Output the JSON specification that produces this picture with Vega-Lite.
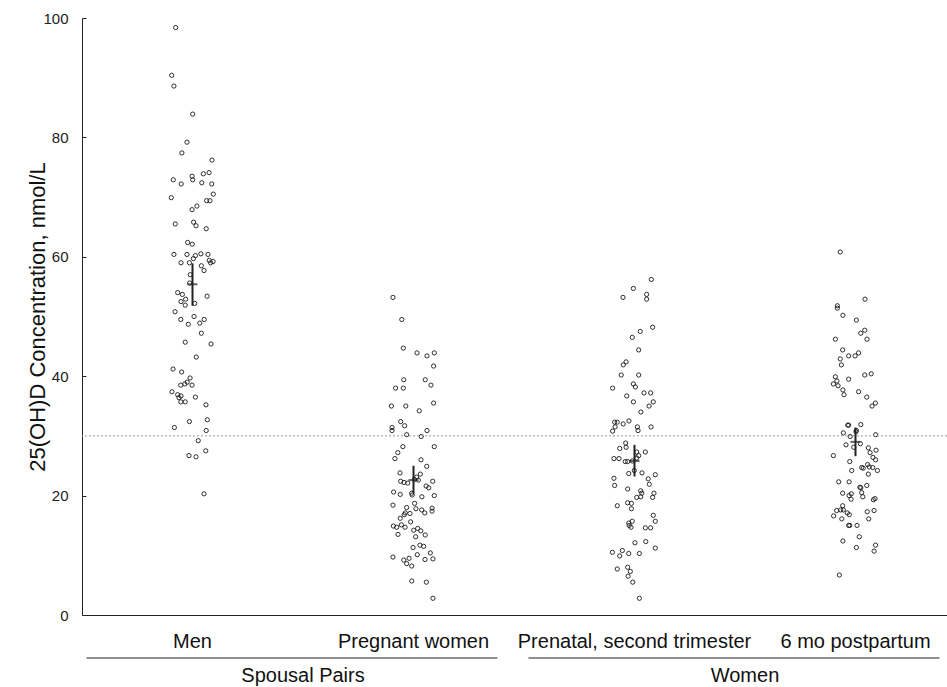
{
"$schema":"https://vega.github.io/schema/vega-lite/v6.json",
"width":865,"height":597,
"autosize":{"type":"none"},
"padding":{"left":82,"top":18,"right":0,"bottom":72},
"background":"white",
"config":{"view":{"stroke":null},"font":"Liberation Sans","axis":{"grid":false}},
"datasets":{
"points":[
{"c":"Men","value":98.4,"jitter":-0.76},{"c":"Men","value":90.4,"jitter":-0.94},{"c":"Men","value":88.6,"jitter":-0.84},{"c":"Men","value":83.9,"jitter":0.01},{"c":"Men","value":79.2,"jitter":-0.25},{"c":"Men","value":77.4,"jitter":-0.48},{"c":"Men","value":76.2,"jitter":0.88},{"c":"Men","value":73.5,"jitter":-0.02},{"c":"Men","value":72.9,"jitter":0.01},{"c":"Men","value":73.9,"jitter":0.49},{"c":"Men","value":74.1,"jitter":0.75},{"c":"Men","value":72.9,"jitter":-0.87},{"c":"Men","value":72.2,"jitter":-0.51},{"c":"Men","value":72.4,"jitter":0.42},{"c":"Men","value":72.2,"jitter":0.87},{"c":"Men","value":70.5,"jitter":0.94},{"c":"Men","value":69.9,"jitter":-0.96},{"c":"Men","value":69.4,"jitter":0.64},{"c":"Men","value":69.4,"jitter":0.79},{"c":"Men","value":68.5,"jitter":0.2},{"c":"Men","value":67.9,"jitter":-0.02},{"c":"Men","value":65.5,"jitter":-0.78},{"c":"Men","value":65.8,"jitter":0.05},{"c":"Men","value":65.2,"jitter":0.16},{"c":"Men","value":64.7,"jitter":0.62},{"c":"Men","value":62.4,"jitter":-0.22},{"c":"Men","value":62.1,"jitter":-0.01},{"c":"Men","value":60.4,"jitter":-0.84},{"c":"Men","value":60.4,"jitter":-0.25},{"c":"Men","value":60.2,"jitter":0.13},{"c":"Men","value":60.5,"jitter":0.38},{"c":"Men","value":60.4,"jitter":0.7},{"c":"Men","value":59.7,"jitter":0.04},{"c":"Men","value":59.4,"jitter":0.76},{"c":"Men","value":59.2,"jitter":0.93},{"c":"Men","value":59.0,"jitter":0.82},{"c":"Men","value":59.0,"jitter":-0.52},{"c":"Men","value":59.0,"jitter":-0.14},{"c":"Men","value":58.5,"jitter":0.4},{"c":"Men","value":57.7,"jitter":0.52},{"c":"Men","value":57.0,"jitter":-0.1},{"c":"Men","value":55.6,"jitter":-0.13},{"c":"Men","value":54.0,"jitter":-0.67},{"c":"Men","value":53.7,"jitter":-0.46},{"c":"Men","value":52.9,"jitter":-0.31},{"c":"Men","value":53.4,"jitter":0.66},{"c":"Men","value":52.5,"jitter":-0.52},{"c":"Men","value":51.9,"jitter":-0.33},{"c":"Men","value":52.2,"jitter":0.1},{"c":"Men","value":50.8,"jitter":-0.79},{"c":"Men","value":50.0,"jitter":0.07},{"c":"Men","value":49.5,"jitter":-0.53},{"c":"Men","value":49.5,"jitter":0.53},{"c":"Men","value":48.9,"jitter":0.33},{"c":"Men","value":48.7,"jitter":-0.19},{"c":"Men","value":47.2,"jitter":0.4},{"c":"Men","value":45.7,"jitter":-0.33},{"c":"Men","value":45.4,"jitter":0.84},{"c":"Men","value":43.2,"jitter":0.17},{"c":"Men","value":41.2,"jitter":-0.88},{"c":"Men","value":40.7,"jitter":-0.49},{"c":"Men","value":39.7,"jitter":-0.11},{"c":"Men","value":39.0,"jitter":-0.24},{"c":"Men","value":38.7,"jitter":-0.35},{"c":"Men","value":38.5,"jitter":-0.53},{"c":"Men","value":38.5,"jitter":-0.02},{"c":"Men","value":37.4,"jitter":-0.93},{"c":"Men","value":36.9,"jitter":-0.67},{"c":"Men","value":36.7,"jitter":-0.52},{"c":"Men","value":36.4,"jitter":-0.61},{"c":"Men","value":36.5,"jitter":0.13},{"c":"Men","value":35.7,"jitter":-0.53},{"c":"Men","value":35.7,"jitter":-0.33},{"c":"Men","value":35.2,"jitter":0.61},{"c":"Men","value":32.4,"jitter":-0.14},{"c":"Men","value":32.7,"jitter":0.67},{"c":"Men","value":31.4,"jitter":-0.82},{"c":"Men","value":30.9,"jitter":0.62},{"c":"Men","value":29.2,"jitter":0.26},{"c":"Men","value":27.5,"jitter":0.6},{"c":"Men","value":26.7,"jitter":-0.16},{"c":"Men","value":26.5,"jitter":0.16},{"c":"Men","value":20.3,"jitter":0.52},
{"c":"Pregnant women","value":53.2,"jitter":-0.93},{"c":"Pregnant women","value":49.5,"jitter":-0.53},{"c":"Pregnant women","value":44.7,"jitter":-0.46},{"c":"Pregnant women","value":43.9,"jitter":0.16},{"c":"Pregnant women","value":43.4,"jitter":0.61},{"c":"Pregnant women","value":43.9,"jitter":0.94},{"c":"Pregnant women","value":41.7,"jitter":0.91},{"c":"Pregnant women","value":39.4,"jitter":-0.44},{"c":"Pregnant women","value":39.4,"jitter":0.53},{"c":"Pregnant women","value":38.5,"jitter":0.79},{"c":"Pregnant women","value":38.0,"jitter":-0.81},{"c":"Pregnant women","value":38.0,"jitter":-0.46},{"c":"Pregnant women","value":35.0,"jitter":-1.0},{"c":"Pregnant women","value":35.0,"jitter":-0.35},{"c":"Pregnant women","value":35.5,"jitter":0.91},{"c":"Pregnant women","value":34.2,"jitter":0.26},{"c":"Pregnant women","value":32.4,"jitter":-0.58},{"c":"Pregnant women","value":31.7,"jitter":-0.4},{"c":"Pregnant women","value":31.4,"jitter":-0.97},{"c":"Pregnant women","value":30.9,"jitter":-0.97},{"c":"Pregnant women","value":30.9,"jitter":0.61},{"c":"Pregnant women","value":30.2,"jitter":-0.31},{"c":"Pregnant women","value":29.9,"jitter":0.35},{"c":"Pregnant women","value":28.2,"jitter":-0.48},{"c":"Pregnant women","value":28.2,"jitter":0.94},{"c":"Pregnant women","value":27.2,"jitter":-0.71},{"c":"Pregnant women","value":26.2,"jitter":-0.84},{"c":"Pregnant women","value":26.0,"jitter":0.34},{"c":"Pregnant women","value":24.9,"jitter":0.6},{"c":"Pregnant women","value":23.8,"jitter":-0.61},{"c":"Pregnant women","value":23.6,"jitter":0.31},{"c":"Pregnant women","value":23.1,"jitter":0.14},{"c":"Pregnant women","value":22.7,"jitter":0.04},{"c":"Pregnant women","value":22.6,"jitter":0.22},{"c":"Pregnant women","value":22.4,"jitter":-0.58},{"c":"Pregnant women","value":22.2,"jitter":-0.43},{"c":"Pregnant women","value":22.1,"jitter":-0.26},{"c":"Pregnant women","value":22.4,"jitter":0.87},{"c":"Pregnant women","value":21.6,"jitter":0.57},{"c":"Pregnant women","value":21.3,"jitter":0.69},{"c":"Pregnant women","value":20.6,"jitter":-0.9},{"c":"Pregnant women","value":20.2,"jitter":-0.6},{"c":"Pregnant women","value":20.4,"jitter":-0.08},{"c":"Pregnant women","value":20.1,"jitter":-0.06},{"c":"Pregnant women","value":19.8,"jitter":0.38},{"c":"Pregnant women","value":20.0,"jitter":0.94},{"c":"Pregnant women","value":18.7,"jitter":0.05},{"c":"Pregnant women","value":18.4,"jitter":-0.93},{"c":"Pregnant women","value":18.0,"jitter":-0.31},{"c":"Pregnant women","value":17.8,"jitter":0.11},{"c":"Pregnant women","value":17.6,"jitter":0.37},{"c":"Pregnant women","value":17.1,"jitter":0.51},{"c":"Pregnant women","value":17.9,"jitter":0.84},{"c":"Pregnant women","value":17.4,"jitter":0.84},{"c":"Pregnant women","value":17.1,"jitter":-0.37},{"c":"Pregnant women","value":17.0,"jitter":-0.16},{"c":"Pregnant women","value":16.8,"jitter":-0.42},{"c":"Pregnant women","value":16.2,"jitter":-0.6},{"c":"Pregnant women","value":15.6,"jitter":-0.13},{"c":"Pregnant women","value":14.9,"jitter":-0.91},{"c":"Pregnant women","value":14.7,"jitter":-0.76},{"c":"Pregnant women","value":15.1,"jitter":-0.55},{"c":"Pregnant women","value":14.7,"jitter":-0.38},{"c":"Pregnant women","value":14.2,"jitter":0.01},{"c":"Pregnant women","value":14.5,"jitter":0.19},{"c":"Pregnant women","value":14.1,"jitter":0.33},{"c":"Pregnant women","value":13.5,"jitter":-0.7},{"c":"Pregnant women","value":13.4,"jitter":0.53},{"c":"Pregnant women","value":13.1,"jitter":0.1},{"c":"Pregnant women","value":11.7,"jitter":0.29},{"c":"Pregnant women","value":11.5,"jitter":0.46},{"c":"Pregnant women","value":11.3,"jitter":-0.02},{"c":"Pregnant women","value":10.4,"jitter":0.76},{"c":"Pregnant women","value":10.1,"jitter":0.17},{"c":"Pregnant women","value":9.7,"jitter":-0.93},{"c":"Pregnant women","value":9.5,"jitter":-0.2},{"c":"Pregnant women","value":9.2,"jitter":-0.44},{"c":"Pregnant women","value":9.3,"jitter":0.52},{"c":"Pregnant women","value":9.4,"jitter":0.88},{"c":"Pregnant women","value":8.6,"jitter":-0.31},{"c":"Pregnant women","value":8.2,"jitter":-0.08},{"c":"Pregnant women","value":5.7,"jitter":-0.08},{"c":"Pregnant women","value":5.5,"jitter":0.58},{"c":"Pregnant women","value":2.8,"jitter":0.88},
{"c":"Prenatal, second trimester","value":56.2,"jitter":0.76},{"c":"Prenatal, second trimester","value":54.7,"jitter":-0.05},{"c":"Prenatal, second trimester","value":53.2,"jitter":-0.52},{"c":"Prenatal, second trimester","value":53.7,"jitter":0.55},{"c":"Prenatal, second trimester","value":52.9,"jitter":0.55},{"c":"Prenatal, second trimester","value":48.2,"jitter":0.82},{"c":"Prenatal, second trimester","value":47.5,"jitter":0.26},{"c":"Prenatal, second trimester","value":46.5,"jitter":-0.1},{"c":"Prenatal, second trimester","value":44.4,"jitter":0.19},{"c":"Prenatal, second trimester","value":42.4,"jitter":-0.38},{"c":"Prenatal, second trimester","value":41.9,"jitter":-0.51},{"c":"Prenatal, second trimester","value":40.2,"jitter":-0.6},{"c":"Prenatal, second trimester","value":40.2,"jitter":0.19},{"c":"Prenatal, second trimester","value":38.7,"jitter":-0.05},{"c":"Prenatal, second trimester","value":38.2,"jitter":0.04},{"c":"Prenatal, second trimester","value":38.0,"jitter":-0.99},{"c":"Prenatal, second trimester","value":36.7,"jitter":-0.35},{"c":"Prenatal, second trimester","value":37.2,"jitter":0.43},{"c":"Prenatal, second trimester","value":37.2,"jitter":0.73},{"c":"Prenatal, second trimester","value":35.7,"jitter":-0.05},{"c":"Prenatal, second trimester","value":35.7,"jitter":0.85},{"c":"Prenatal, second trimester","value":35.0,"jitter":0.66},{"c":"Prenatal, second trimester","value":34.0,"jitter":0.29},{"c":"Prenatal, second trimester","value":32.3,"jitter":-0.9},{"c":"Prenatal, second trimester","value":32.3,"jitter":-0.78},{"c":"Prenatal, second trimester","value":32.0,"jitter":-0.51},{"c":"Prenatal, second trimester","value":32.5,"jitter":-0.25},{"c":"Prenatal, second trimester","value":31.5,"jitter":-0.88},{"c":"Prenatal, second trimester","value":30.8,"jitter":-0.99},{"c":"Prenatal, second trimester","value":31.5,"jitter":0.13},{"c":"Prenatal, second trimester","value":30.9,"jitter":0.16},{"c":"Prenatal, second trimester","value":31.5,"jitter":0.75},{"c":"Prenatal, second trimester","value":28.8,"jitter":-0.4},{"c":"Prenatal, second trimester","value":28.1,"jitter":-0.38},{"c":"Prenatal, second trimester","value":27.9,"jitter":-0.67},{"c":"Prenatal, second trimester","value":27.3,"jitter":0.1},{"c":"Prenatal, second trimester","value":27.3,"jitter":0.49},{"c":"Prenatal, second trimester","value":26.7,"jitter":0.19},{"c":"Prenatal, second trimester","value":26.3,"jitter":0.1},{"c":"Prenatal, second trimester","value":26.2,"jitter":-0.93},{"c":"Prenatal, second trimester","value":26.2,"jitter":-0.7},{"c":"Prenatal, second trimester","value":25.7,"jitter":-0.42},{"c":"Prenatal, second trimester","value":25.7,"jitter":-0.31},{"c":"Prenatal, second trimester","value":25.8,"jitter":-0.1},{"c":"Prenatal, second trimester","value":24.2,"jitter":-0.01},{"c":"Prenatal, second trimester","value":23.7,"jitter":-0.26},{"c":"Prenatal, second trimester","value":23.8,"jitter":0.34},{"c":"Prenatal, second trimester","value":23.5,"jitter":0.94},{"c":"Prenatal, second trimester","value":22.9,"jitter":-0.93},{"c":"Prenatal, second trimester","value":22.8,"jitter":0.62},{"c":"Prenatal, second trimester","value":21.7,"jitter":-0.9},{"c":"Prenatal, second trimester","value":21.9,"jitter":0.67},{"c":"Prenatal, second trimester","value":21.1,"jitter":-0.31},{"c":"Prenatal, second trimester","value":20.8,"jitter":0.28},{"c":"Prenatal, second trimester","value":20.4,"jitter":0.33},{"c":"Prenatal, second trimester","value":19.8,"jitter":0.28},{"c":"Prenatal, second trimester","value":20.4,"jitter":0.88},{"c":"Prenatal, second trimester","value":19.7,"jitter":0.82},{"c":"Prenatal, second trimester","value":19.7,"jitter":0.1},{"c":"Prenatal, second trimester","value":18.8,"jitter":-0.31},{"c":"Prenatal, second trimester","value":18.7,"jitter":-0.14},{"c":"Prenatal, second trimester","value":18.3,"jitter":-0.78},{"c":"Prenatal, second trimester","value":17.8,"jitter":-0.14},{"c":"Prenatal, second trimester","value":16.7,"jitter":0.85},{"c":"Prenatal, second trimester","value":15.7,"jitter":0.94},{"c":"Prenatal, second trimester","value":15.7,"jitter":-0.1},{"c":"Prenatal, second trimester","value":15.4,"jitter":-0.26},{"c":"Prenatal, second trimester","value":14.7,"jitter":-0.16},{"c":"Prenatal, second trimester","value":15.0,"jitter":-0.24},{"c":"Prenatal, second trimester","value":14.6,"jitter":0.49},{"c":"Prenatal, second trimester","value":14.6,"jitter":0.73},{"c":"Prenatal, second trimester","value":12.1,"jitter":0.02},{"c":"Prenatal, second trimester","value":12.3,"jitter":0.51},{"c":"Prenatal, second trimester","value":11.2,"jitter":0.94},{"c":"Prenatal, second trimester","value":10.5,"jitter":-1.0},{"c":"Prenatal, second trimester","value":10.8,"jitter":-0.55},{"c":"Prenatal, second trimester","value":9.9,"jitter":-0.67},{"c":"Prenatal, second trimester","value":10.3,"jitter":-0.26},{"c":"Prenatal, second trimester","value":10.3,"jitter":0.22},{"c":"Prenatal, second trimester","value":7.7,"jitter":-0.78},{"c":"Prenatal, second trimester","value":8.0,"jitter":-0.31},{"c":"Prenatal, second trimester","value":7.3,"jitter":-0.19},{"c":"Prenatal, second trimester","value":6.5,"jitter":-0.29},{"c":"Prenatal, second trimester","value":5.5,"jitter":-0.08},{"c":"Prenatal, second trimester","value":2.8,"jitter":0.22},
{"c":"6 mo postpartum","value":60.8,"jitter":-0.69},{"c":"6 mo postpartum","value":52.9,"jitter":0.43},{"c":"6 mo postpartum","value":51.8,"jitter":-0.82},{"c":"6 mo postpartum","value":51.4,"jitter":-0.82},{"c":"6 mo postpartum","value":50.2,"jitter":-0.57},{"c":"6 mo postpartum","value":49.4,"jitter":0.04},{"c":"6 mo postpartum","value":47.7,"jitter":0.42},{"c":"6 mo postpartum","value":47.2,"jitter":0.24},{"c":"6 mo postpartum","value":46.2,"jitter":-0.91},{"c":"6 mo postpartum","value":46.2,"jitter":0.52},{"c":"6 mo postpartum","value":44.4,"jitter":-0.58},{"c":"6 mo postpartum","value":43.9,"jitter":0.14},{"c":"6 mo postpartum","value":43.4,"jitter":-0.02},{"c":"6 mo postpartum","value":43.4,"jitter":-0.31},{"c":"6 mo postpartum","value":42.9,"jitter":-0.69},{"c":"6 mo postpartum","value":41.9,"jitter":-0.64},{"c":"6 mo postpartum","value":40.4,"jitter":0.71},{"c":"6 mo postpartum","value":40.2,"jitter":0.42},{"c":"6 mo postpartum","value":39.9,"jitter":-0.91},{"c":"6 mo postpartum","value":39.2,"jitter":-0.84},{"c":"6 mo postpartum","value":38.7,"jitter":-1.0},{"c":"6 mo postpartum","value":38.4,"jitter":-0.79},{"c":"6 mo postpartum","value":39.5,"jitter":-0.31},{"c":"6 mo postpartum","value":37.7,"jitter":-0.57},{"c":"6 mo postpartum","value":36.9,"jitter":-0.52},{"c":"6 mo postpartum","value":37.4,"jitter":0.14},{"c":"6 mo postpartum","value":36.5,"jitter":0.51},{"c":"6 mo postpartum","value":35.5,"jitter":0.9},{"c":"6 mo postpartum","value":35.0,"jitter":0.75},{"c":"6 mo postpartum","value":31.8,"jitter":-0.35},{"c":"6 mo postpartum","value":31.8,"jitter":-0.31},{"c":"6 mo postpartum","value":31.9,"jitter":0.24},{"c":"6 mo postpartum","value":30.9,"jitter":0.04},{"c":"6 mo postpartum","value":30.7,"jitter":0.02},{"c":"6 mo postpartum","value":30.5,"jitter":-0.55},{"c":"6 mo postpartum","value":30.2,"jitter":0.91},{"c":"6 mo postpartum","value":29.9,"jitter":-0.24},{"c":"6 mo postpartum","value":28.5,"jitter":-0.43},{"c":"6 mo postpartum","value":28.7,"jitter":0.22},{"c":"6 mo postpartum","value":28.1,"jitter":-0.08},{"c":"6 mo postpartum","value":26.7,"jitter":-1.0},{"c":"6 mo postpartum","value":28.0,"jitter":0.58},{"c":"6 mo postpartum","value":27.2,"jitter":0.66},{"c":"6 mo postpartum","value":27.6,"jitter":0.93},{"c":"6 mo postpartum","value":26.4,"jitter":0.79},{"c":"6 mo postpartum","value":26.0,"jitter":0.91},{"c":"6 mo postpartum","value":25.7,"jitter":-0.26},{"c":"6 mo postpartum","value":25.2,"jitter":0.55},{"c":"6 mo postpartum","value":24.8,"jitter":0.62},{"c":"6 mo postpartum","value":24.7,"jitter":0.78},{"c":"6 mo postpartum","value":24.2,"jitter":0.99},{"c":"6 mo postpartum","value":24.7,"jitter":0.28},{"c":"6 mo postpartum","value":24.6,"jitter":0.35},{"c":"6 mo postpartum","value":24.2,"jitter":-0.17},{"c":"6 mo postpartum","value":23.6,"jitter":0.58},{"c":"6 mo postpartum","value":22.3,"jitter":-0.76},{"c":"6 mo postpartum","value":22.3,"jitter":-0.29},{"c":"6 mo postpartum","value":21.4,"jitter":0.2},{"c":"6 mo postpartum","value":21.3,"jitter":0.24},{"c":"6 mo postpartum","value":21.7,"jitter":0.51},{"c":"6 mo postpartum","value":20.4,"jitter":-0.58},{"c":"6 mo postpartum","value":20.3,"jitter":-0.19},{"c":"6 mo postpartum","value":20.0,"jitter":-0.29},{"c":"6 mo postpartum","value":19.4,"jitter":-0.2},{"c":"6 mo postpartum","value":20.5,"jitter":0.28},{"c":"6 mo postpartum","value":19.8,"jitter":0.33},{"c":"6 mo postpartum","value":19.5,"jitter":0.88},{"c":"6 mo postpartum","value":19.3,"jitter":0.81},{"c":"6 mo postpartum","value":18.3,"jitter":-0.58},{"c":"6 mo postpartum","value":17.6,"jitter":-0.67},{"c":"6 mo postpartum","value":17.5,"jitter":-0.85},{"c":"6 mo postpartum","value":17.6,"jitter":-0.55},{"c":"6 mo postpartum","value":17.1,"jitter":-0.37},{"c":"6 mo postpartum","value":16.8,"jitter":-0.28},{"c":"6 mo postpartum","value":16.6,"jitter":-0.99},{"c":"6 mo postpartum","value":17.3,"jitter":0.53},{"c":"6 mo postpartum","value":17.5,"jitter":0.84},{"c":"6 mo postpartum","value":16.1,"jitter":-0.62},{"c":"6 mo postpartum","value":16.1,"jitter":0.6},{"c":"6 mo postpartum","value":15.0,"jitter":-0.31},{"c":"6 mo postpartum","value":15.0,"jitter":-0.26},{"c":"6 mo postpartum","value":15.0,"jitter":0.07},{"c":"6 mo postpartum","value":13.1,"jitter":0.17},{"c":"6 mo postpartum","value":12.4,"jitter":-0.57},{"c":"6 mo postpartum","value":11.3,"jitter":0.04},{"c":"6 mo postpartum","value":11.7,"jitter":0.91},{"c":"6 mo postpartum","value":10.7,"jitter":0.84},{"c":"6 mo postpartum","value":6.7,"jitter":-0.73}
],
"summary":[
{"c":"Men","mean":55.4,"lo":51.8,"hi":58.9},
{"c":"Pregnant women","mean":22.6,"lo":20.4,"hi":25.0},
{"c":"Prenatal, second trimester","mean":25.8,"lo":23.2,"hi":28.5},
{"c":"6 mo postpartum","mean":29.0,"lo":26.6,"hi":31.4}
],
"groups":[
{"group":"Spousal Pairs","first":"Men","last":"Pregnant women"},
{"group":"Women","first":"Prenatal, second trimester","last":"6 mo postpartum"}
]
},
"layer":[
{"data":{"name":"points"},
 "mark":{"type":"point","shape":"circle","filled":false,"size":18,"strokeWidth":0.9,"color":"#1a1a1a","opacity":1},
 "encoding":{
  "x":{"field":"c","type":"nominal","title":null,
   "scale":{"type":"band","domain":["Men","Pregnant women","Prenatal, second trimester","6 mo postpartum"],"range":[0,884],"paddingInner":0,"paddingOuter":0},
   "axis":{"ticks":false,"domain":true,"domainColor":"#222","labelFontSize":20,"labelColor":"#111","labelBaseline":"alphabetic","labelPadding":32,"labelAngle":0,"labelOverlap":false,"labelBound":false,"labelFlush":false,"labelLimit":0}},
  "xOffset":{"field":"jitter","type":"quantitative","scale":{"domain":[-5,5]}},
  "y":{"field":"value","type":"quantitative","scale":{"domain":[0,100],"nice":false,"zero":false},
   "axis":{"title":"25(OH)D Concentration, nmol/L","titleFontSize":22,"titleFontWeight":"normal","titleColor":"#111","titlePadding":-7,"values":[0,20,40,60,80,100],"labelFontSize":15,"labelColor":"#222","labelPadding":18,"tickSize":-4,"tickColor":"#222","domainColor":"#222"}}
 }},
{"data":{"values":[{"ref":30}]},
 "mark":{"type":"rule","color":"#999","strokeDash":[2,2],"strokeWidth":1},
 "encoding":{"y":{"field":"ref","type":"quantitative"}}},
{"data":{"name":"summary"},
 "mark":{"type":"rule","color":"#222","strokeWidth":2},
 "encoding":{"x":{"field":"c","type":"nominal","title":null},"y":{"field":"lo","type":"quantitative"},"y2":{"field":"hi"}}},
{"data":{"name":"summary"},
 "mark":{"type":"tick","orient":"horizontal","size":10,"thickness":2,"color":"#222"},
 "encoding":{"x":{"field":"c","type":"nominal","title":null},"y":{"field":"mean","type":"quantitative"}}},
{"data":{"name":"groups"},
 "mark":{"type":"rule","color":"#222","strokeWidth":1.2},
 "encoding":{"x":{"field":"first","type":"nominal","title":null,"bandPosition":0.02},"x2":{"field":"last","bandPosition":0.88},"y":{"datum":-7.2}}},
{"data":{"name":"groups"},
 "mark":{"type":"text","fontSize":20,"color":"#111","baseline":"alphabetic","align":"center"},
 "encoding":{"x":{"field":"last","type":"nominal","title":null,"bandPosition":0},"y":{"datum":-11.2},"text":{"field":"group"}}}
]
}
